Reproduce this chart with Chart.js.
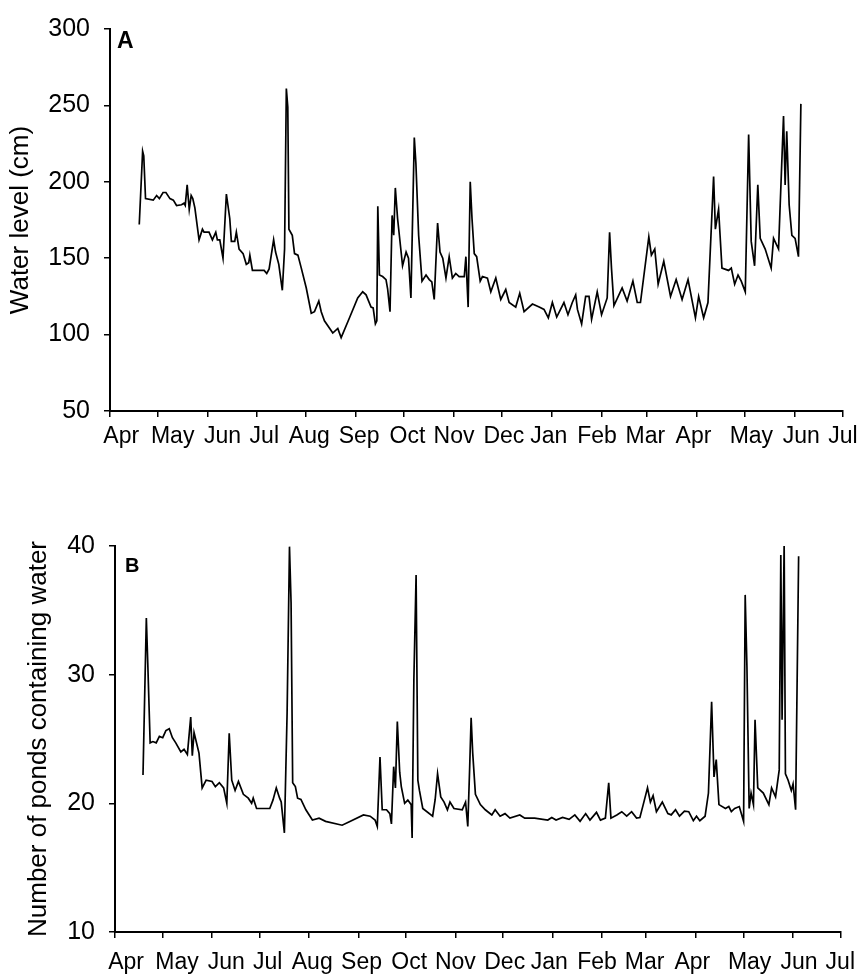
<!DOCTYPE html>
<html>
<head>
<meta charset="utf-8">
<script src="https://cdn.jsdelivr.net/npm/chart.js@4.4.0/dist/chart.umd.min.js"></script>
<style>
  body { margin: 0; background: #fff; }
  canvas { position: absolute; left: 0; }
</style>
</head>
<body>
<canvas id="chartA" width="864" height="480" style="top:0"></canvas>
<canvas id="chartB" width="864" height="496" style="top:480px"></canvas>
<script>
// Eixo X: dias desde 1 de abril (inicio de cada mes = marcas; nomes um pouco deslocados como no original)
const monthLabels = ['Apr','May','Jun','Jul','Aug','Sep','Oct','Nov','Dec','Jan','Feb','Mar','Apr','May','Jun','Jul'];
const monthStartDays = [0,30,61,91,122,153,183,214,244,275,306,334,365,395,426,456];
const monthLabelDays = [7,39,70,96,124,155,185,214,245,273,303,333,363,399,430,456];

// Painel A - nivel da agua (cm)
const waterTicks = [50,100,150,200,250,300];
const daysA = [18.2,20.3,21.0,22.1,26.9,29.0,30.7,33.0,34.8,37.3,39.4,41.4,44.5,46.0,46.8,48.0,49.3,50.5,51.5,52.8,
  55.4,57.5,58.5,61.6,63.7,65.8,66.8,68.3,70.3,72.4,74.5,75.5,77.6,78.6,80.3,82.8,84.8,86.3,87.0,88.6,
  91.7,95.9,97.5,99.0,101.8,103.0,105.0,107.2,108.6,109.7,110.6,111.3,113.4,114.8,116.9,119.0,122.1,125.2,127.2,129.9,
  131.4,133.4,138.6,141.7,143.8,149.0,154.1,157.2,159.3,162.4,163.7,165.1,166.0,166.6,167.6,169.6,171.7,172.7,174.2,175.5,
  176.5,177.5,178.9,180.0,182.0,184.2,185.7,187.2,189.3,190.3,192.0,194.1,196.6,198.6,200.2,201.7,203.8,205.3,207.0,209.0,
  211.0,213.0,215.1,217.2,220.4,221.4,222.8,224.1,225.2,226.6,228.1,230.3,231.7,234.8,236.9,240.0,243.1,246.2,248.3,252.4,
  254.9,257.6,262.8,267.0,270.0,272.7,275.2,277.9,282.4,284.9,287.6,289.7,290.8,293.4,295.9,298.0,299.6,303.1,305.8,309.3,
  310.8,312.0,313.5,318.6,321.7,325.3,328.0,330.0,335.2,336.8,338.9,341.0,344.5,348.7,352.2,355.9,359.6,364.2,366.2,369.3,
  372.0,375.5,376.6,378.6,380.7,384.8,386.5,388.6,390.7,392.7,395.2,397.3,398.9,401.0,403.0,404.5,407.6,411.3,412.8,415.9,
  419.0,420.0,421.0,422.5,424.2,426.2,428.3,429.8];
const waterLevel = [172,220,217,189,188,191,189,193,193,189,188,184.5,185,186,184.5,198,182,191,189,183,
  162,169,167,167,162,167,162,162,150,192,176,161,161,167,156,153,146,147,152,142,
  142,142,140,143,162,154,146,129,156,261,249,169,165,153,152,143.5,130.5,114,115,122,
  115,109,101,104,98,111,124,128,126,118,117.5,107,109,184,139,138,136,130,115,178,
  165,196,176,165,145,154,150,124,229,212,165,135,139,136,134.5,123,173,154,150,137,
  151,137,140,138,138,151,118,200,176,153,151,135,138,137,128,137,123,129.5,121,118,
  127,115,120,118,116.5,111,121,111.5,121,113,121,126,116.5,107,125,125,110,128,113,124,
  167,143,119,130.5,122,135,121,121,164,152,156,133,148,125,136,123,136,111,125,111,
  121,203.5,169,182,143.5,142,143.5,133,139,135,128,231,161,145,198,163,156,143.5,163,156,
  243,198,233,185,165,163,151,251];

// Painel B - numero de lagoas com agua
const pondTicks = [10,20,30,40];
const daysB = [17.6,19.7,20.6,22.1,23.8,25.9,27.9,30.0,32.0,34.1,36.1,38.2,41.4,43.4,45.5,47.6,48.6,49.7,52.8,54.8,
  57.3,61.0,63.1,65.6,68.3,70.3,71.8,73.4,75.5,77.6,80.7,83.8,85.9,86.9,89.0,97.3,99.3,101.4,103.5,104.5,
  106.5,108.2,109.7,110.7,111.7,113.4,114.8,116.9,120.0,124.1,128.3,132.4,142.8,148.0,156.2,160.4,163.5,164.9,166.6,168.0,
  170.7,172.8,173.8,175.2,176.3,177.5,179.0,180.0,182.1,184.1,186.2,186.8,187.9,189.3,190.4,191.4,193.5,199.7,201.3,202.8,
  204.8,206.9,209.0,210.6,213.1,218.3,220.4,221.8,223.0,223.9,224.9,226.6,229.7,232.8,236.9,239.0,242.1,245.2,248.3,254.5,
  257.6,263.8,272.1,274.6,277.3,281.4,285.5,289.1,292.4,295.9,298.6,302.7,305.2,308.3,310.4,311.8,315.5,318.6,321.7,324.8,
  327.9,330.0,332.1,334.8,336.6,338.3,340.4,344.1,347.6,349.7,352.4,354.9,358.0,360.7,363.6,365.6,367.7,371.0,373.1,375.1,
  376.6,378.0,379.7,383.8,385.9,387.5,389.6,392.5,395.2,396.2,397.3,398.7,399.9,401.4,402.4,404.1,407.6,411.1,412.8,415.3,
  417.6,418.6,419.4,420.7,421.5,423.2,425.2,426.3,427.9,429.8];
const pondsWithWater = [22.2,34.4,30.9,24.7,24.8,24.7,25.2,25.1,25.65,25.8,25.1,24.7,24.0,24.2,23.8,26.7,23.7,25.5,23.9,21.2,
  21.8,21.7,21.3,21.6,21.2,20.0,25.45,21.8,21.0,21.7,20.7,20.4,20.0,20.4,19.6,19.6,20.25,21.2,20.4,20.1,
  17.7,27.0,39.95,35.6,21.6,21.3,20.4,20.3,19.5,18.7,18.85,18.6,18.3,18.6,19.1,19.0,18.7,18.2,23.6,19.5,
  19.5,19.2,18.4,22.85,21.2,26.35,22.4,21.3,20.0,20.25,19.9,17.3,29.6,37.75,21.8,21.0,19.6,19.0,20.3,22.3,
  20.5,20.1,19.5,20.1,19.6,19.5,20.1,18.2,22.85,26.65,23.9,20.7,19.9,19.5,19.1,19.5,19.0,19.2,18.85,19.1,
  18.85,18.85,18.7,18.9,18.7,18.9,18.75,19.1,18.6,19.2,18.7,19.3,18.7,18.85,21.6,18.85,19.1,19.35,19.0,19.35,
  18.85,18.9,19.9,21.2,20.1,20.6,19.35,20.1,19.2,19.1,19.5,19.0,19.4,19.35,18.65,19.0,18.65,19.0,20.8,27.9,
  22.05,23.4,19.9,19.6,19.75,19.35,19.6,19.75,18.6,36.2,30.6,19.6,20.8,19.9,26.5,21.2,20.8,19.9,21.2,20.5,
  22.6,39.3,26.5,40.2,22.3,21.8,21.0,21.5,19.5,39.2];

const FONT = '"Liberation Sans", Arial, Helvetica, sans-serif';

// Letra do painel (A / B) no canto superior esquerdo
const panelLetter = {
  id: 'panelLetter',
  afterDraw(chart, args, opts) {
    const { ctx, chartArea } = chart;
    ctx.save();
    ctx.font = `bold ${opts.size}px ${FONT}`;
    ctx.fillStyle = '#000';
    ctx.textBaseline = 'alphabetic';
    ctx.fillText(opts.text, chartArea.left + opts.dx, chartArea.top + opts.dy);
    ctx.restore();
  }
};

function makeChart(id, days, values, cfg) {
  const points = days.map((d, i) => ({ x: d, y: values[i] }));
  return new Chart(document.getElementById(id), {
    type: 'line',
    data: {
      datasets: [{
        data: points,
        borderColor: '#000',
        borderWidth: 1.7,
        pointRadius: 0,
        tension: 0,
        fill: false
      }]
    },
    options: {
      responsive: false,
      animation: false,
      layout: { padding: { top: cfg.top, right: cfg.right, left: 0, bottom: 0 } },
      plugins: {
        legend: { display: false },
        tooltip: { enabled: false },
        panelLetter: cfg.letter
      },
      scales: {
        // marcas dos meses
        x: {
          type: 'linear',
          min: 0,
          max: 456,
          weight: 0,
          afterBuildTicks: axis => { axis.ticks = monthStartDays.map(v => ({ value: v })); },
          afterFit: s => { s.height = 8; },
          ticks: { display: false },
          grid: { drawOnChartArea: false, drawTicks: true, tickLength: 6, color: '#000', lineWidth: 1.5 },
          border: { display: true, color: '#000', width: 2 }
        },
        // nomes dos meses
        xl: {
          type: 'linear',
          position: 'bottom',
          min: 0,
          max: 456,
          weight: 1,
          afterBuildTicks: axis => { axis.ticks = monthLabelDays.map(v => ({ value: v })); },
          afterFit: s => { s.height = cfg.xHeight - 8; },
          ticks: {
            autoSkip: false, maxRotation: 0, minRotation: 0,
            color: '#000', padding: cfg.xPad,
            font: { size: 23, family: FONT },
            callback: (v, i) => monthLabels[i]
          },
          grid: { display: false, drawTicks: false },
          border: { display: false }
        },
        y: {
          min: cfg.yTicks[0],
          max: cfg.yTicks[cfg.yTicks.length - 1],
          afterBuildTicks: axis => { axis.ticks = cfg.yTicks.map(v => ({ value: v })); },
          afterFit: s => { s.width = cfg.yWidth; },
          ticks: { color: '#000', padding: 14, font: { size: 25, family: FONT } },
          grid: { drawOnChartArea: false, drawTicks: true, tickLength: 6, color: '#000', lineWidth: 1.5 },
          border: { display: true, color: '#000', width: 2 },
          title: {
            display: true,
            text: cfg.yTitle,
            color: '#000',
            font: { size: 26, family: FONT },
            padding: { top: cfg.titlePad, bottom: 0 }
          }
        }
      }
    },
    plugins: [panelLetter]
  });
}

makeChart('chartA', daysA, waterLevel, {
  top: 25, right: 21, xHeight: 69, yWidth: 110, xPad: 4, titlePad: 5,
  yTicks: waterTicks, yTitle: 'Water level (cm)',
  letter: { text: 'A', size: 23, dx: 7, dy: 19 }
});

makeChart('chartB', daysB, pondsWithWater, {
  top: 66, right: 16, xHeight: 44, yWidth: 115, xPad: 9, titlePad: 23,
  yTicks: pondTicks, yTitle: 'Number of ponds containing water',
  letter: { text: 'B', size: 20, dx: 10, dy: 26 }
});
</script>
</body>
</html>
